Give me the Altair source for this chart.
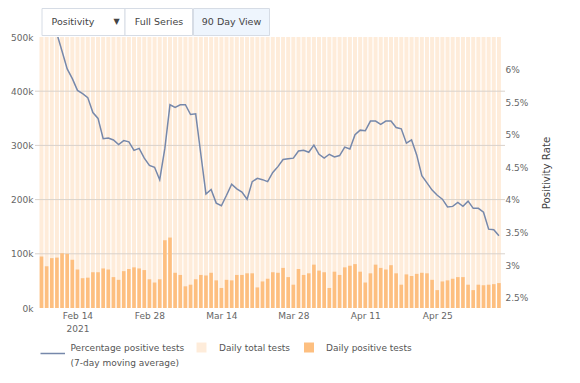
import altair as alt
import pandas as pd

# ---------------- data ----------------
start_day = "2021-02-07"
end_day = "2021-05-07"
dates = pd.date_range(start_day, end_day, freq="D")  # 90 days

# Daily positive tests (thousands)
positive_k = [95, 77, 92, 93, 101, 100, 89, 71, 55, 56,
              66, 66, 73, 71, 57, 52, 68, 72, 75, 73,
              70, 53, 47, 53, 125, 130, 65, 61, 40, 43,
              53, 61, 60, 65, 51, 37, 52, 51, 61, 61,
              64, 64, 38, 49, 54, 66, 65, 74, 57, 43,
              72, 61, 64, 80, 69, 66, 37, 67, 61, 75,
              78, 81, 67, 47, 64, 80, 74, 71, 79, 64,
              43, 62, 59, 63, 65, 64, 52, 33, 49, 51,
              54, 57, 57, 43, 33, 43, 42, 43, 44, 46]

# Daily total tests (thousands) - all exceed the 500k axis limit
total_k = [1420, 1180, 1390, 1450, 1560, 1610, 1530, 1290, 1020, 1090,
           1300, 1330, 1450, 1470, 1230, 1080, 1380, 1490, 1580, 1560,
           1520, 1170, 1030, 1150, 2490, 2560, 1390, 1340, 950, 1010,
           1280, 1460, 1440, 1530, 1210, 920, 1260, 1230, 1470, 1480,
           1520, 1510, 930, 1160, 1270, 1540, 1520, 1710, 1320, 1010,
           1650, 1410, 1480, 1820, 1570, 1510, 860, 1530, 1400, 1690,
           1720, 1750, 1430, 1010, 1360, 1690, 1570, 1500, 1680, 1370,
           920, 1330, 1290, 1390, 1480, 1510, 1260, 820, 1240, 1290,
           1380, 1450, 1460, 1110, 860, 1120, 1100, 1190, 1250, 1310]

# Percentage positive tests, 7-day moving average (%)
rate = [7.20, 7.00, 6.78, 6.55, 6.28, 6.01, 5.86, 5.68, 5.63, 5.57,
        5.34, 5.25, 4.94, 4.95, 4.92, 4.85, 4.91, 4.89, 4.76, 4.79,
        4.64, 4.53, 4.50, 4.31, 4.79, 5.46, 5.42, 5.46, 5.46, 5.31,
        5.32, 4.70, 4.09, 4.16, 3.95, 3.91, 4.07, 4.24, 4.17, 4.12,
        4.01, 4.28, 4.33, 4.31, 4.28, 4.42, 4.51, 4.62, 4.63, 4.64,
        4.75, 4.76, 4.73, 4.84, 4.70, 4.64, 4.70, 4.66, 4.68, 4.81,
        4.78, 5.00, 5.07, 5.06, 5.21, 5.21, 5.16, 5.21, 5.21, 5.11,
        5.09, 4.87, 4.92, 4.69, 4.37, 4.26, 4.15, 4.07, 4.01, 3.89,
        3.90, 3.96, 3.90, 3.98, 3.87, 3.87, 3.81, 3.55, 3.54, 3.45]

left_ticks = [0, 100000, 200000, 300000, 400000, 500000]
grid_vals = [100000, 200000, 300000, 400000]
right_ticks = [2.5, 3, 3.5, 4, 4.5, 5, 5.5, 6]
date_ticks = [(2, 14), (2, 28), (3, 14), (3, 28), (4, 11), (4, 25)]

df = pd.DataFrame({
    "date": dates.strftime("%Y-%m-%dT00:00:00"),
    "total": [v * 1000 for v in total_k],
    "positive": [v * 1000 for v in positive_k],
    "rate": rate,
})
grid_df = pd.DataFrame({"g": grid_vals})

# ---------------- styling ----------------
FONT = "DejaVu Sans"
C_TOTAL = "#feecda"
C_POS = "#fdbf80"
C_LINE = "#7688ab"
C_GRID = "#d9d2cb"
C_LABEL = "#666666"
C_TEXT = "#555555"

W, H = 470, 271

x_enc = alt.X(
    "date:T",
    title=None,
    scale=alt.Scale(domain=[alt.DateTime(year=2021, month=2, date=6, hours=17),
                            alt.DateTime(year=2021, month=5, date=7, hours=5)]),
    axis=alt.Axis(
        values=[alt.DateTime(year=2021, month=m, date=d) for m, d in date_ticks],
        labelExpr="datum.index == 0 ? [timeFormat(datum.value, '%b %d'), '2021'] : timeFormat(datum.value, '%b %d')",
        domain=False, ticks=False, grid=False, labelPadding=3,
        labelFont=FONT, labelFontSize=9, labelColor=C_LABEL, labelLineHeight=13,
    ),
)

left_scale = alt.Scale(domain=[0, 500000], nice=False, zero=True)
left_axis = alt.Axis(values=left_ticks, format="~s", domain=False, ticks=False,
                     grid=False, labelPadding=2, labelFont=FONT, labelFontSize=9,
                     labelColor=C_LABEL, orient="left")

total_bars = alt.Chart(df).mark_bar(color=C_TOTAL, size=4, clip=True).encode(
    x=x_enc, y=alt.Y("total:Q", scale=left_scale, axis=left_axis, title=None))
grid = alt.Chart(grid_df).mark_rule(color=C_GRID, strokeWidth=1, clip=True).encode(
    y=alt.Y("g:Q", scale=left_scale, axis=left_axis, title=None))
pos_bars = alt.Chart(df).mark_bar(color=C_POS, size=3.6, clip=True).encode(
    x=x_enc, y=alt.Y("positive:Q", scale=left_scale, axis=left_axis, title=None))

left = alt.layer(total_bars, grid, pos_bars)

line = alt.Chart(df).mark_line(color=C_LINE, strokeWidth=1.5, clip=True).encode(
    x=x_enc,
    y=alt.Y("rate:Q", title=None,
            scale=alt.Scale(domain=[2.34, 6.5], nice=False, zero=False),
            axis=alt.Axis(orient="right", values=right_ticks,
                          labelExpr="datum.value + '%'", domain=False, ticks=False,
                          grid=False, labelPadding=0, labelFont=FONT,
                          labelFontSize=9, labelColor=C_LABEL)),
)

one = alt.Data(values=[{"k": 1}])


def txt(s, x, y, size=9, color=C_TEXT, align="left", angle=0):
    return alt.Chart(one).mark_text(
        text=s, align=align, baseline="middle", font=FONT, fontSize=size,
        color=color, clip=False, angle=angle,
    ).encode(x=alt.value(x), y=alt.value(y))


def box(x1, x2, y1, y2, fill, stroke=None, sw=1):
    kw = dict(fill=fill, clip=False)
    if stroke:
        kw.update(stroke=stroke, strokeWidth=sw)
    return alt.Chart(one).mark_rect(**kw).encode(
        x=alt.value(x1), x2=alt.value(x2), y=alt.value(y1), y2=alt.value(y2))


decos = [
    # right-axis title
    txt("Positivity Rate", 511.5, 136, size=10.2, color="#444444", align="center", angle=270),
    # control buttons
    box(7, 90, -28.5, -1.5, "#ffffff", "#d6dce5"),
    box(90, 157.5, -28.5, -1.5, "#ffffff", "#d6dce5"),
    box(158.5, 234.5, -28.5, -1.5, "#eef5fd", "#d6dce5"),
    txt("Positivity", 16.5, -15, size=9.5, color="#444444"),
    txt("▼", 81.5, -15, size=8, color="#444444", align="center"),
    txt("Full Series", 124, -15, size=9.5, color="#444444", align="center"),
    txt("90 Day View", 196.5, -15, size=9.5, color="#444444", align="center"),
    # legend
    alt.Chart(one).mark_rule(color=C_LINE, strokeWidth=1.5, clip=False).encode(
        x=alt.value(5.5), x2=alt.value(30), y=alt.value(316.5)),
    txt("Percentage positive tests", 35.5, 310.5),
    txt("(7-day moving average)", 35.5, 325.5),
    box(161.5, 171.5, 305.5, 315.5, C_TOTAL),
    txt("Daily total tests", 184, 310.5),
    box(269, 279, 305.5, 315.5, C_POS),
    txt("Daily positive tests", 291, 310.5),
]

chart = alt.layer(left, line, *decos).resolve_scale(y="independent").properties(
    width=W, height=H,
    autosize=alt.AutoSizeParams(type="none"),
    padding={"left": 27, "top": 29, "right": 67, "bottom": 67},
    background="white",
).configure_view(strokeWidth=0)

chart.save("out.html", embed_options={"renderer": "svg", "actions": False})
